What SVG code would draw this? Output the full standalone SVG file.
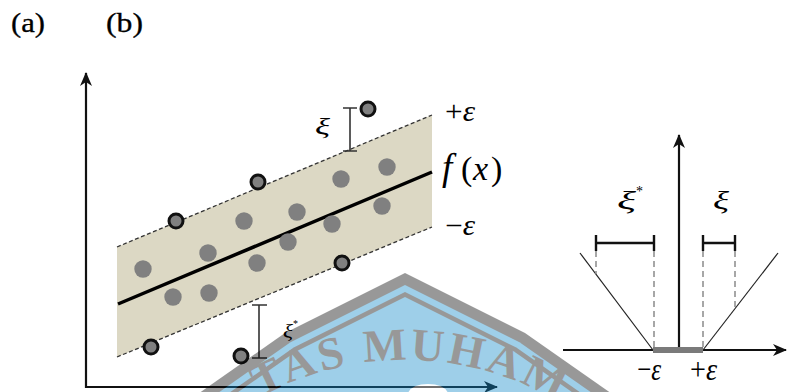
<svg xmlns="http://www.w3.org/2000/svg" width="787" height="392" viewBox="0 0 787 392">
  <style>
    .t { font-family: "Liberation Serif", "Times New Roman", serif; fill: #000; }
    .it { font-style: italic; }
    .heavy { stroke: #000; stroke-width: 0.3; }
    .axis { stroke: #111; stroke-width: 2.2; fill: none; }
    .band-edge { stroke: #333; stroke-width: 1.3; stroke-dasharray: 4 2.5; fill: none; }
    .pin { fill: #808080; }
    .pout { fill: #808080; stroke: #111; stroke-width: 3; }
    .err { stroke: #333; stroke-width: 1.6; fill: none; }
    .bar { stroke: #111; stroke-width: 2.4; fill: none; }
    .dash { stroke: #8a8a8a; stroke-width: 1.5; stroke-dasharray: 6 4; fill: none; }
    .vline { stroke: #222; stroke-width: 1.2; fill: none; }
  </style>
  <defs>
    <marker id="arr" viewBox="0 0 14 12" refX="13" refY="6" markerWidth="14" markerHeight="12" markerUnits="userSpaceOnUse" orient="auto">
      <path d="M0,0 L14,6 L0,12 L4,6 Z" fill="#111"/>
    </marker>
    <path id="wmArc" d="M105,660 A300,300 0 0 1 705,660"/>
  </defs>
  <rect width="787" height="392" fill="#fff"/>

  <!-- panel labels -->
  <g id="label-a"><text class="t heavy" x="11" y="32" font-size="27" textLength="34" lengthAdjust="spacingAndGlyphs">(a)</text></g>
  <g id="label-b"><text class="t heavy" x="106" y="32" font-size="27" textLength="37" lengthAdjust="spacingAndGlyphs">(b)</text></g>

  <!-- left plot -->
  <g id="band">
    <path d="M117,247 L432,115 L432,227 L117,357 Z" fill="#dcd8c4"/>
    <path class="band-edge" d="M117,247 L432,115"/>
    <path class="band-edge" d="M117,357 L432,227"/>
    <path d="M118,304 L432,172" stroke="#000" stroke-width="3.5" fill="none"/>
  </g>

  <g id="connectors">
    <path class="axis" d="M86,388 L86,73" marker-end="url(#arr)"/>
    <path class="axis" d="M85,387 L497,387" marker-end="url(#arr)"/>
    <path class="axis" d="M563,350 L786,350" marker-end="url(#arr)"/>
    <path class="axis" d="M679,350 L679,135" marker-end="url(#arr)"/>
  </g>

  <g id="points-inside">
    <circle class="pin" cx="143" cy="269" r="8.7"/>
    <circle class="pin" cx="173" cy="297" r="8.7"/>
    <circle class="pin" cx="208" cy="253" r="8.7"/>
    <circle class="pin" cx="209" cy="293" r="8.7"/>
    <circle class="pin" cx="244" cy="221" r="8.7"/>
    <circle class="pin" cx="257" cy="263" r="8.7"/>
    <circle class="pin" cx="288" cy="242" r="8.7"/>
    <circle class="pin" cx="297" cy="212" r="8.7"/>
    <circle class="pin" cx="332" cy="224" r="8.7"/>
    <circle class="pin" cx="341" cy="179" r="8.7"/>
    <circle class="pin" cx="382" cy="206" r="8.7"/>
    <circle class="pin" cx="387" cy="167" r="8.7"/>
  </g>
  <g id="points-outside">
    <circle class="pout" cx="176" cy="221" r="7"/>
    <circle class="pout" cx="258" cy="182" r="7"/>
    <circle class="pout" cx="342" cy="263" r="7"/>
    <circle class="pout" cx="368" cy="109" r="7"/>
    <circle class="pout" cx="151" cy="347" r="7"/>
    <circle class="pout" cx="241" cy="356" r="7"/>
  </g>

  <g id="slack-xi">
    <path class="err" d="M350,108 L350,151 M343,108 L357,108 M343,151 L357,151"/>
    <text class="t it" x="315" y="134" font-size="23" textLength="15" lengthAdjust="spacingAndGlyphs">ξ</text>
  </g>
  <g id="slack-xi-star">
    <path class="err" d="M259,305 L259,358 M252,305 L267,305 M252,358 L267,358"/>
    <text class="t it" x="283" y="337" font-size="18" textLength="10" lengthAdjust="spacingAndGlyphs">ξ</text>
    <text class="t" x="293" y="327" font-size="10">*</text>
  </g>

  <g id="band-labels">
    <text class="t" transform="translate(445,121) scale(1,1.15)" font-size="25" textLength="30" lengthAdjust="spacingAndGlyphs">+<tspan class="it">ε</tspan></text>
    <text class="t" font-size="34" y="180"><tspan class="it" x="442" font-size="37">f</tspan><tspan x="461">(</tspan><tspan class="it" x="473">x</tspan><tspan x="491">)</tspan></text>
    <text class="t" transform="translate(445,235) scale(1,1.15)" font-size="25" textLength="30" lengthAdjust="spacingAndGlyphs">−<tspan class="it">ε</tspan></text>
  </g>

  <!-- right plot: epsilon-insensitive loss -->
  <g id="loss">
    <path class="vline" d="M580,253 L653,350"/>
    <path class="vline" d="M703,350 L778,253"/>
    <path class="dash" d="M596,251 L596,274"/>
    <path class="dash" d="M654,251 L654,347"/>
    <path class="dash" d="M703,251 L703,347"/>
    <path class="dash" d="M735,251 L735,309"/>
    <path d="M653,350 L703,350" stroke="#7a7a7a" stroke-width="6"/>
  </g>
  <g id="bar-xi-star">
    <path class="bar" d="M596,243 L654,243 M596,235 L596,251 M654,235 L654,251"/>
    <text class="t it" x="617" y="209" font-size="26" textLength="19" lengthAdjust="spacingAndGlyphs">ξ</text>
    <text class="t" x="636" y="196" font-size="14">*</text>
  </g>
  <g id="bar-xi">
    <path class="bar" d="M703,243 L735,243 M703,235 L703,251 M735,235 L735,251"/>
    <text class="t it" x="713" y="209" font-size="26" textLength="16" lengthAdjust="spacingAndGlyphs">ξ</text>
  </g>
  <g id="eps-labels">
    <text class="t" transform="translate(637,380) scale(1,1.35)" font-size="24" textLength="24" lengthAdjust="spacingAndGlyphs">−<tspan class="it">ε</tspan></text>
    <text class="t" transform="translate(690,380) scale(1,1.35)" font-size="24" textLength="27" lengthAdjust="spacingAndGlyphs">+<tspan class="it">ε</tspan></text>
  </g>

  <!-- watermark -->
  <g id="watermark" opacity="0.4">
    <path d="M150,427.5 L285,333 L405,273 L525,333 L660,427.5 L660,470 L150,470 Z" fill="#000"/>
    <path d="M150,440.6 L290.5,342.2 L405,285 L519.5,342.2 L660,440.6 L660,470 L150,470 Z" fill="#0f89ca"/>
    <path d="M150,448.3 L293.7,347.6 L405,292 L516.3,347.6 L660,448.3 L660,470 L150,470 Z" fill="#000"/>
    <path d="M150,453.7 L296,351.5 L405,297 L514,351.5 L660,453.7 L660,470 L150,470 Z" fill="#0f89ca"/>
    <path d="M408,393 Q412,384 428,384 Q444,384 448,393 Z" fill="#fff"/>
    <text font-family="Liberation Serif, serif" font-weight="bold" font-size="46" letter-spacing="3" fill="#000"><textPath href="#wmArc" startOffset="320">TAS MUHAM</textPath></text>
  </g>
</svg>
